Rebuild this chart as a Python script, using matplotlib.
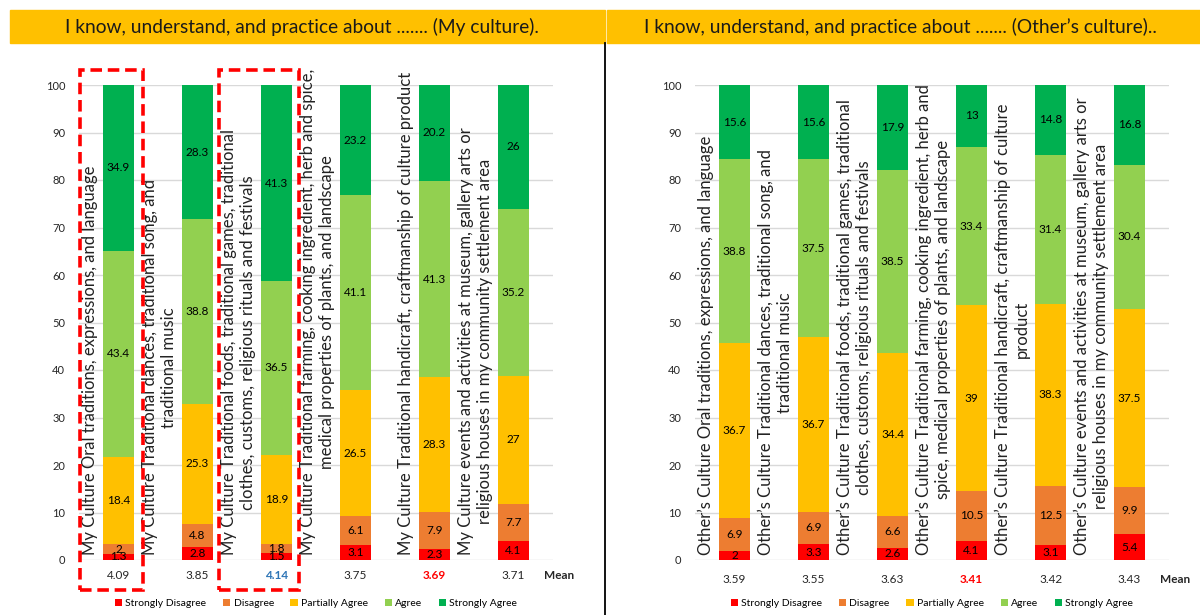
import numpy as np
import matplotlib
matplotlib.use("Agg")
import matplotlib.pyplot as plt
from matplotlib.patches import Rectangle

plt.rcParams['font.family'] = ['Lato', 'DejaVu Sans']

levels = ['Strongly Disagree', 'Disagree', 'Partially Agree', 'Agree', 'Strongly Agree']
colors = ['#FF0000', '#ED7D31', '#FFC000', '#92D050', '#00B050']

# My culture
labels_my = [
    "My Culture Oral traditions, expressions, and language",
    "My Culture Traditional dances, traditional song, and\ntraditional music",
    "My Culture Traditional foods, traditional games, traditional\nclothes, customs, religious rituals and festivals",
    "My Culture Traditional farming, cooking ingredient, herb and spice,\nmedical properties of plants, and landscape",
    "My Culture Traditional handicraft, craftmanship of culture product",
    "My Culture events and activities at museum, gallery arts or\nreligious houses in my community settlement area",
]
sd_my = [1.3, 2.8, 1.5, 3.1, 2.3, 4.1]
d_my = [2, 4.8, 1.8, 6.1, 7.9, 7.7]
pa_my = [18.4, 25.3, 18.9, 26.5, 28.3, 27]
a_my = [43.4, 38.8, 36.5, 41.1, 41.3, 35.2]
sa_my = [34.9, 28.3, 41.3, 23.2, 20.2, 26]
mean_my = ["4.09", "3.85", "4.14", "3.75", "3.69", "3.71"]
mean_colors_my = ['#262626', '#262626', '#2E75B6', '#262626', '#FF0000', '#262626']

# Other's culture
labels_oth = [
    "Other\u2019s Culture Oral traditions, expressions, and language",
    "Other\u2019s Culture Traditional dances, traditional song, and\ntraditional music",
    "Other\u2019s Culture Traditional foods, traditional games, traditional\nclothes, customs, religious rituals and festivals",
    "Other\u2019s Culture Traditional farming, cooking ingredient, herb and\nspice, medical properties of plants, and landscape",
    "Other\u2019s Culture Traditional handicraft, craftmanship of culture\nproduct",
    "Other\u2019s Culture events and activities at museum, gallery arts or\nreligious houses in my community settlement area",
]
sd_oth = [2, 3.3, 2.6, 4.1, 3.1, 5.4]
d_oth = [6.9, 6.9, 6.6, 10.5, 12.5, 9.9]
pa_oth = [36.7, 36.7, 34.4, 39, 38.3, 37.5]
a_oth = [38.8, 37.5, 38.5, 33.4, 31.4, 30.4]
sa_oth = [15.6, 15.6, 17.9, 13, 14.8, 16.8]
mean_oth = ["3.59", "3.55", "3.63", "3.41", "3.42", "3.43"]
mean_colors_oth = ['#262626', '#262626', '#262626', '#FF0000', '#262626', '#262626']

W, H = 1200, 615
fig = plt.figure(figsize=(12, 6.15), dpi=100)


def px_axes(x0, x1, y_top, y_bot):
    return [x0 / W, 1 - y_bot / H, (x1 - x0) / W, (y_bot - y_top) / H]


def draw_panel(ax, labels, series, means, mean_cols, mean_y, boxes):
    x = np.arange(len(labels))
    bottom = np.zeros(len(labels))
    for vals, col, name in zip(series, colors, levels):
        vals = np.array(vals, dtype=float)
        ax.bar(x, vals, 0.39, bottom=bottom, color=col, label=name, zorder=2)
        for xi, b, v in zip(x, bottom, vals):
            ax.text(xi, b + v / 2, f"{v:g}", ha='center', va='center',
                    fontsize=8.5, color='black', zorder=3)
        bottom += vals

    # rotated category labels sit left of each bar
    for xi, lab in zip(x, labels):
        ax.text(xi - 0.26, 1.0, lab, rotation=90, ha='right', va='bottom',
                multialignment='center', fontsize=12, color='#222222',
                clip_on=False, zorder=4)

    for xi, m, c in zip(x, means, mean_cols):
        bold = c != '#262626'
        ax.text(xi, mean_y, m, ha='center', va='center', fontsize=8.5, color=c,
                fontweight='bold' if bold else 'normal', clip_on=False)
    ax.text(5.58, mean_y, "Mean", ha='center', va='center', fontsize=8.5,
            fontweight='bold', color='#262626', clip_on=False)

    for (bx0, bx1) in boxes:
        ax.add_patch(Rectangle((bx0, -6.3), bx1 - bx0, 109.5, fill=False,
                               edgecolor='#FF0000', lw=2.6, ls=(0, (3.2, 1.6)),
                               clip_on=False, zorder=5))

    ax.set_xlim(-0.5, 5.5)
    ax.set_ylim(0, 100)
    ax.set_yticks(range(0, 101, 10))
    ax.tick_params(axis='y', length=0, labelsize=8, labelcolor='#262626', pad=10)
    ax.set_xticks([])
    ax.grid(axis='y', color='#D9D9D9', lw=1, zorder=0)
    for s in ax.spines.values():
        s.set_visible(False)
    ax.legend(loc='center', bbox_to_anchor=(0.5, -0.092), ncol=5,
              frameon=False, fontsize=7.5, handlelength=0.7, handleheight=0.7,
              handletextpad=0.3, columnspacing=1.6)


ax1 = fig.add_axes(px_axes(79, 553, 85, 560))
draw_panel(ax1, labels_my, [sd_my, d_my, pa_my, a_my, sa_my], mean_my,
           mean_colors_my, -3.3, [(-0.487, 0.31), (1.27, 2.28)])

ax2 = fig.add_axes(px_axes(695, 1169, 85, 560))
draw_panel(ax2, labels_oth, [sd_oth, d_oth, pa_oth, a_oth, sa_oth], mean_oth,
           mean_colors_oth, -4.2, [])

# header bars
fig.patches.append(Rectangle((10 / W, 1 - 43 / H), 595 / W, 33 / H,
                             transform=fig.transFigure, color='#FFC000', zorder=0))
fig.patches.append(Rectangle((607 / W, 1 - 43 / H), 593 / W, 33 / H,
                             transform=fig.transFigure, color='#FFC000', zorder=0))
fig.text(302 / W, 1 - 27 / H, "I know, understand, and practice about ....... (My culture).",
         ha='center', va='center', fontsize=13.8, color='#1a1a1a')
fig.text(900 / W, 1 - 27 / H, "I know, understand, and practice about ....... (Other\u2019s culture)..",
         ha='center', va='center', fontsize=13.8, color='#1a1a1a')

# divider
fig.add_artist(plt.Line2D([605 / W, 605 / W], [0, 1 - 43 / H], color='black', lw=1.3,
                          transform=fig.transFigure))

fig.savefig("out.png", dpi=100)
